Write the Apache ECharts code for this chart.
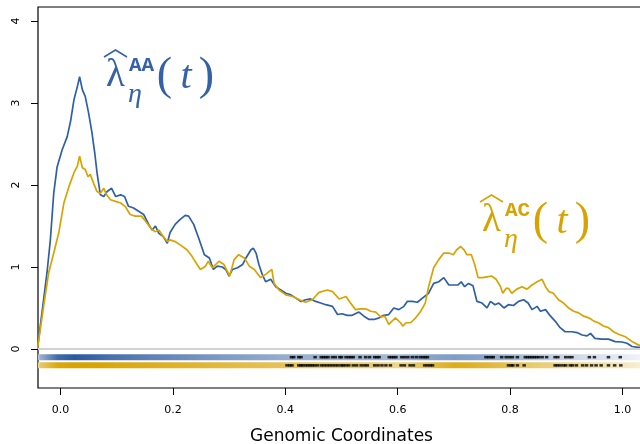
<!DOCTYPE html>
<html>
<head>
<meta charset="utf-8">
<title>Genomic Coordinates</title>
<script src="https://cdn.jsdelivr.net/npm/echarts@6/dist/echarts.min.js"></script>
<style>
  html, body { margin: 0; padding: 0; background: #fff; }
  #chart { width: 640px; height: 444px; }
</style>
</head>
<body>
<div id="chart"></div>
<script type="text/javascript">
// estimated intensity curves, [position, value]
var aaCurve = [[-0.041,0],[-0.033,0.44],[-0.024,0.93],[-0.018,1.33],[-0.012,1.9],[-0.006,2.22],[0.003,2.43],[0.012,2.59],[0.018,2.78],[0.024,3.04],[0.030,3.2],[0.034,3.32],[0.039,3.16],[0.044,3.08],[0.050,2.88],[0.056,2.64],[0.061,2.39],[0.065,2.15],[0.071,1.88],[0.077,1.86],[0.083,1.92],[0.091,1.96],[0.098,1.86],[0.107,1.88],[0.114,1.86],[0.121,1.74],[0.130,1.72],[0.139,1.68],[0.148,1.64],[0.157,1.52],[0.163,1.45],[0.169,1.5],[0.175,1.41],[0.183,1.37],[0.190,1.29],[0.195,1.42],[0.204,1.52],[0.213,1.58],[0.222,1.63],[0.228,1.62],[0.237,1.52],[0.246,1.35],[0.256,1.15],[0.265,1.11],[0.272,0.97],[0.279,1.01],[0.288,1.0],[0.294,0.97],[0.300,0.89],[0.306,0.97],[0.315,0.99],[0.324,1.03],[0.330,1.11],[0.339,1.21],[0.343,1.23],[0.348,1.17],[0.353,1.03],[0.359,0.91],[0.365,0.82],[0.374,0.85],[0.383,0.76],[0.392,0.72],[0.401,0.68],[0.410,0.66],[0.419,0.62],[0.428,0.58],[0.436,0.6],[0.445,0.61],[0.454,0.58],[0.463,0.56],[0.472,0.54],[0.484,0.52],[0.493,0.42],[0.501,0.43],[0.510,0.41],[0.519,0.41],[0.531,0.45],[0.540,0.4],[0.549,0.36],[0.558,0.36],[0.567,0.38],[0.575,0.41],[0.584,0.42],[0.593,0.5],[0.602,0.48],[0.611,0.52],[0.617,0.58],[0.626,0.58],[0.635,0.57],[0.644,0.62],[0.655,0.68],[0.664,0.8],[0.673,0.82],[0.682,0.87],[0.691,0.78],[0.700,0.78],[0.707,0.78],[0.713,0.82],[0.719,0.76],[0.726,0.8],[0.734,0.77],[0.741,0.58],[0.750,0.56],[0.759,0.5],[0.765,0.58],[0.773,0.54],[0.780,0.56],[0.789,0.5],[0.797,0.54],[0.806,0.53],[0.815,0.58],[0.824,0.6],[0.832,0.56],[0.839,0.48],[0.848,0.52],[0.854,0.46],[0.863,0.48],[0.872,0.4],[0.880,0.34],[0.889,0.26],[0.898,0.21],[0.910,0.21],[0.919,0.2],[0.928,0.17],[0.937,0.16],[0.943,0.19],[0.951,0.13],[0.963,0.12],[0.975,0.12],[0.987,0.09],[0.999,0.085],[1.008,0.07],[1.017,0.03],[1.028,0.02],[1.04,0.02]];

var acCurve = [[-0.041,0],[-0.030,0.52],[-0.021,0.93],[-0.012,1.17],[-0.003,1.42],[0.006,1.78],[0.015,1.98],[0.024,2.15],[0.030,2.23],[0.034,2.35],[0.039,2.21],[0.044,2.19],[0.049,2.1],[0.053,2.13],[0.059,2.02],[0.065,1.92],[0.071,1.9],[0.077,1.96],[0.082,1.88],[0.089,1.82],[0.098,1.8],[0.107,1.78],[0.115,1.74],[0.124,1.64],[0.133,1.62],[0.144,1.62],[0.151,1.56],[0.160,1.48],[0.168,1.43],[0.175,1.45],[0.183,1.37],[0.190,1.31],[0.195,1.33],[0.204,1.31],[0.213,1.27],[0.225,1.21],[0.234,1.13],[0.243,1.03],[0.249,0.97],[0.258,1.01],[0.263,1.07],[0.270,0.99],[0.282,1.07],[0.291,1.03],[0.301,0.89],[0.309,1.09],[0.317,1.15],[0.327,1.11],[0.336,1.01],[0.345,0.97],[0.356,0.87],[0.365,0.91],[0.376,0.97],[0.380,0.8],[0.389,0.72],[0.401,0.66],[0.413,0.64],[0.425,0.6],[0.436,0.57],[0.448,0.6],[0.460,0.69],[0.475,0.72],[0.484,0.7],[0.496,0.61],[0.508,0.64],[0.516,0.56],[0.525,0.48],[0.534,0.49],[0.543,0.49],[0.552,0.46],[0.561,0.45],[0.570,0.39],[0.577,0.4],[0.584,0.3],[0.590,0.34],[0.596,0.38],[0.605,0.32],[0.609,0.28],[0.615,0.32],[0.623,0.32],[0.632,0.38],[0.641,0.46],[0.649,0.56],[0.655,0.76],[0.664,0.99],[0.673,1.09],[0.682,1.17],[0.691,1.17],[0.699,1.15],[0.705,1.21],[0.712,1.25],[0.718,1.21],[0.723,1.15],[0.731,1.15],[0.737,1.03],[0.743,0.87],[0.751,0.87],[0.759,0.88],[0.767,0.89],[0.775,0.85],[0.783,0.76],[0.787,0.68],[0.793,0.74],[0.797,0.74],[0.803,0.68],[0.812,0.73],[0.821,0.76],[0.830,0.73],[0.839,0.78],[0.848,0.82],[0.857,0.85],[0.863,0.76],[0.869,0.7],[0.877,0.68],[0.886,0.6],[0.895,0.56],[0.904,0.5],[0.913,0.46],[0.922,0.44],[0.931,0.4],[0.940,0.38],[0.949,0.34],[0.957,0.32],[0.966,0.28],[0.975,0.26],[0.984,0.21],[0.993,0.18],[1.005,0.15],[1.017,0.09],[1.028,0.05],[1.04,0.03]];

// event positions shown as ticks on the two strips
var aaEvents = [0.411,0.415,0.424,0.428,0.453,0.464,0.468,0.472,0.476,0.484,0.489,0.497,0.500,0.508,0.513,0.517,0.521,0.533,0.543,0.550,0.559,0.563,0.567,0.585,0.589,0.593,0.597,0.607,0.612,0.618,0.626,0.633,0.640,0.645,0.649,0.653,
  0.757,0.762,0.767,0.770,0.785,0.793,0.799,0.804,0.813,0.827,0.831,0.835,0.839,0.843,0.847,0.851,0.857,0.865,0.880,0.885,0.899,0.905,0.910,0.941,0.950,0.975,0.996];
var acEvents = [0.403,0.408,0.412,0.424,0.428,0.431,0.436,0.440,0.444,0.448,0.452,0.457,0.464,0.469,0.474,0.479,0.484,0.489,0.494,0.500,0.503,0.508,0.513,0.521,0.527,0.535,0.541,0.546,0.559,0.565,0.572,0.579,0.587,0.606,0.612,0.622,0.628,0.648,0.653,0.658,0.662,
  0.797,0.802,0.805,0.813,0.825,0.880,0.884,0.889,0.895,0.899,0.907,0.911,0.918,0.929,0.936,0.945,0.953,0.962,0.975,0.986,0.997];

// strip shading (0 = white, 1 = full colour) along the coordinate
var stripX  = [-0.04,-0.03,0.0,0.03,0.07,0.1,0.15,0.2,0.25,0.3,0.35,0.4,0.45,0.5,0.55,0.6,0.65,0.7,0.75,0.8,0.85,0.9,0.95,1.0,1.04];
var aaShade = [0.15,0.5,0.9,1.0,0.92,0.85,0.78,0.72,0.66,0.6,0.55,0.5,0.47,0.45,0.45,0.42,0.55,0.6,0.55,0.45,0.33,0.25,0.18,0.12,0.05];
var acShade = [0.2,0.6,0.95,1.0,1.0,0.95,0.9,0.85,0.8,0.75,0.7,0.65,0.62,0.6,0.55,0.45,0.7,0.9,0.8,0.65,0.55,0.45,0.35,0.25,0.15];

var xTicks = [0, 0.2, 0.4, 0.6, 0.8, 1.0];
var yTicks = [0, 1, 2, 3, 4];

var BLUE = '#2f5fa7', GOLD = '#d9a300';
var blueRGB = [44, 90, 160], goldRGB = [217, 163, 0];

function mix(rgb, s) {
  return 'rgb(' + rgb.map(function (c) { return Math.round(255 + (c - 255) * s); }).join(',') + ')';
}
function stripGradient(rgb, shades) {
  var stops = stripX.map(function (x, i) {
    return { offset: (x - stripX[0]) / (stripX[stripX.length - 1] - stripX[0]), color: mix(rgb, shades[i]) };
  });
  return new echarts.graphic.LinearGradient(0, 0, 1, 0, stops);
}

var chart = echarts.init(document.getElementById('chart'), null, { renderer: 'canvas' });

var serif = '"Liberation Serif", "DejaVu Serif", serif';
var mono = '"Liberation Mono", "DejaVu Sans Mono", monospace';

// lambda-hat label, laid out around the lambda centre (cx, cy)
function label(cx, cy, color, sup) {
  var t = function (dx, dy, txt, font) {
    return { type: 'text', silent: true, style: { x: cx + dx, y: cy + dy, text: txt, font: font, fill: color, align: 'center', verticalAlign: 'middle' } };
  };
  return [
    { type: 'polyline', silent: true, shape: { points: [[cx - 11.5, cy - 17], [cx, cy - 24], [cx + 11.5, cy - 17]] },
      style: { stroke: color, lineWidth: 1.5, fill: null } },
    t(0, 1.5, 'λ', '39px ' + serif),
    t(26, -8.5, sup, 'bold 21px ' + mono),
    t(19.5, 21, 'η', 'italic 28px ' + serif),
    t(49, 3, '(', '46px ' + serif),
    t(70.5, 3, 't', 'italic 40px ' + serif),
    t(91, 3, ')', '46px ' + serif)
  ];
}

var option = {
  animation: false,
  backgroundColor: '#fff',
  grid: {
    left: 38, top: 7, width: 607, height: 381,
    show: true, borderColor: '#000', borderWidth: 1.2,
    outerBoundsMode: 'none', containLabel: false
  },
  xAxis: {
    type: 'value', min: -0.04, max: 1.04,
    name: 'Genomic Coordinates', nameLocation: 'middle', nameGap: 40,
    nameTextStyle: { fontFamily: '"DejaVu Sans", sans-serif', fontSize: 17, color: '#000' },
    axisLine: { show: false, onZero: false },
    splitLine: { show: false },
    axisTick: { show: true, length: 7, customValues: xTicks, lineStyle: { color: '#000', width: 1 } },
    axisLabel: { customValues: xTicks, margin: 17, fontFamily: '"DejaVu Sans", sans-serif', fontSize: 11, color: '#000',
      formatter: function (v) { return v.toFixed(1); } }
  },
  yAxis: {
    type: 'value', min: -0.476, max: 4.171,
    axisLine: { show: false, onZero: false },
    splitLine: { show: false },
    axisTick: { show: true, length: 7, customValues: yTicks, lineStyle: { color: '#000', width: 1 } },
    axisLabel: { customValues: yTicks, rotate: 90, margin: 16, fontFamily: '"DejaVu Sans", sans-serif', fontSize: 11, color: '#000' }
  },
  series: [
    {
      type: 'line', silent: true, symbol: 'none', z: 1,
      data: [[stripX[0], -0.1], [stripX[stripX.length - 1], -0.1]],
      lineStyle: { width: 6, color: stripGradient(blueRGB, aaShade) },
      markLine: { silent: true, symbol: 'none', label: { show: false },
        lineStyle: { color: '#d2d2d2', width: 2, type: 'solid' }, data: [{ yAxis: 0 }] }
    },
    {
      type: 'line', silent: true, symbol: 'none', z: 1,
      data: [[stripX[0], -0.2], [stripX[stripX.length - 1], -0.2]],
      lineStyle: { width: 6, color: stripGradient(goldRGB, acShade) }
    },
    {
      type: 'scatter', silent: true, z: 2, symbol: 'rect', symbolSize: [3.5, 2.5],
      itemStyle: { color: '#000' },
      data: aaEvents.map(function (x) { return [x, -0.1]; })
    },
    {
      type: 'scatter', silent: true, z: 2, symbol: 'rect', symbolSize: [3.5, 2.5],
      itemStyle: { color: '#000' },
      data: acEvents.map(function (x) { return [x, -0.2]; })
    },
    {
      name: 'AA', type: 'line', silent: true, symbol: 'none', z: 3,
      data: aaCurve, lineStyle: { color: BLUE, width: 1.7 }
    },
    {
      name: 'AC', type: 'line', silent: true, symbol: 'none', z: 4,
      data: acCurve, lineStyle: { color: GOLD, width: 1.7 }
    }
  ],
  graphic: label(115.5, 74, '#3461a8', 'AA').concat(label(491.5, 219, '#d8a200', 'AC'))
};

chart.setOption(option);
</script>
</body>
</html>
